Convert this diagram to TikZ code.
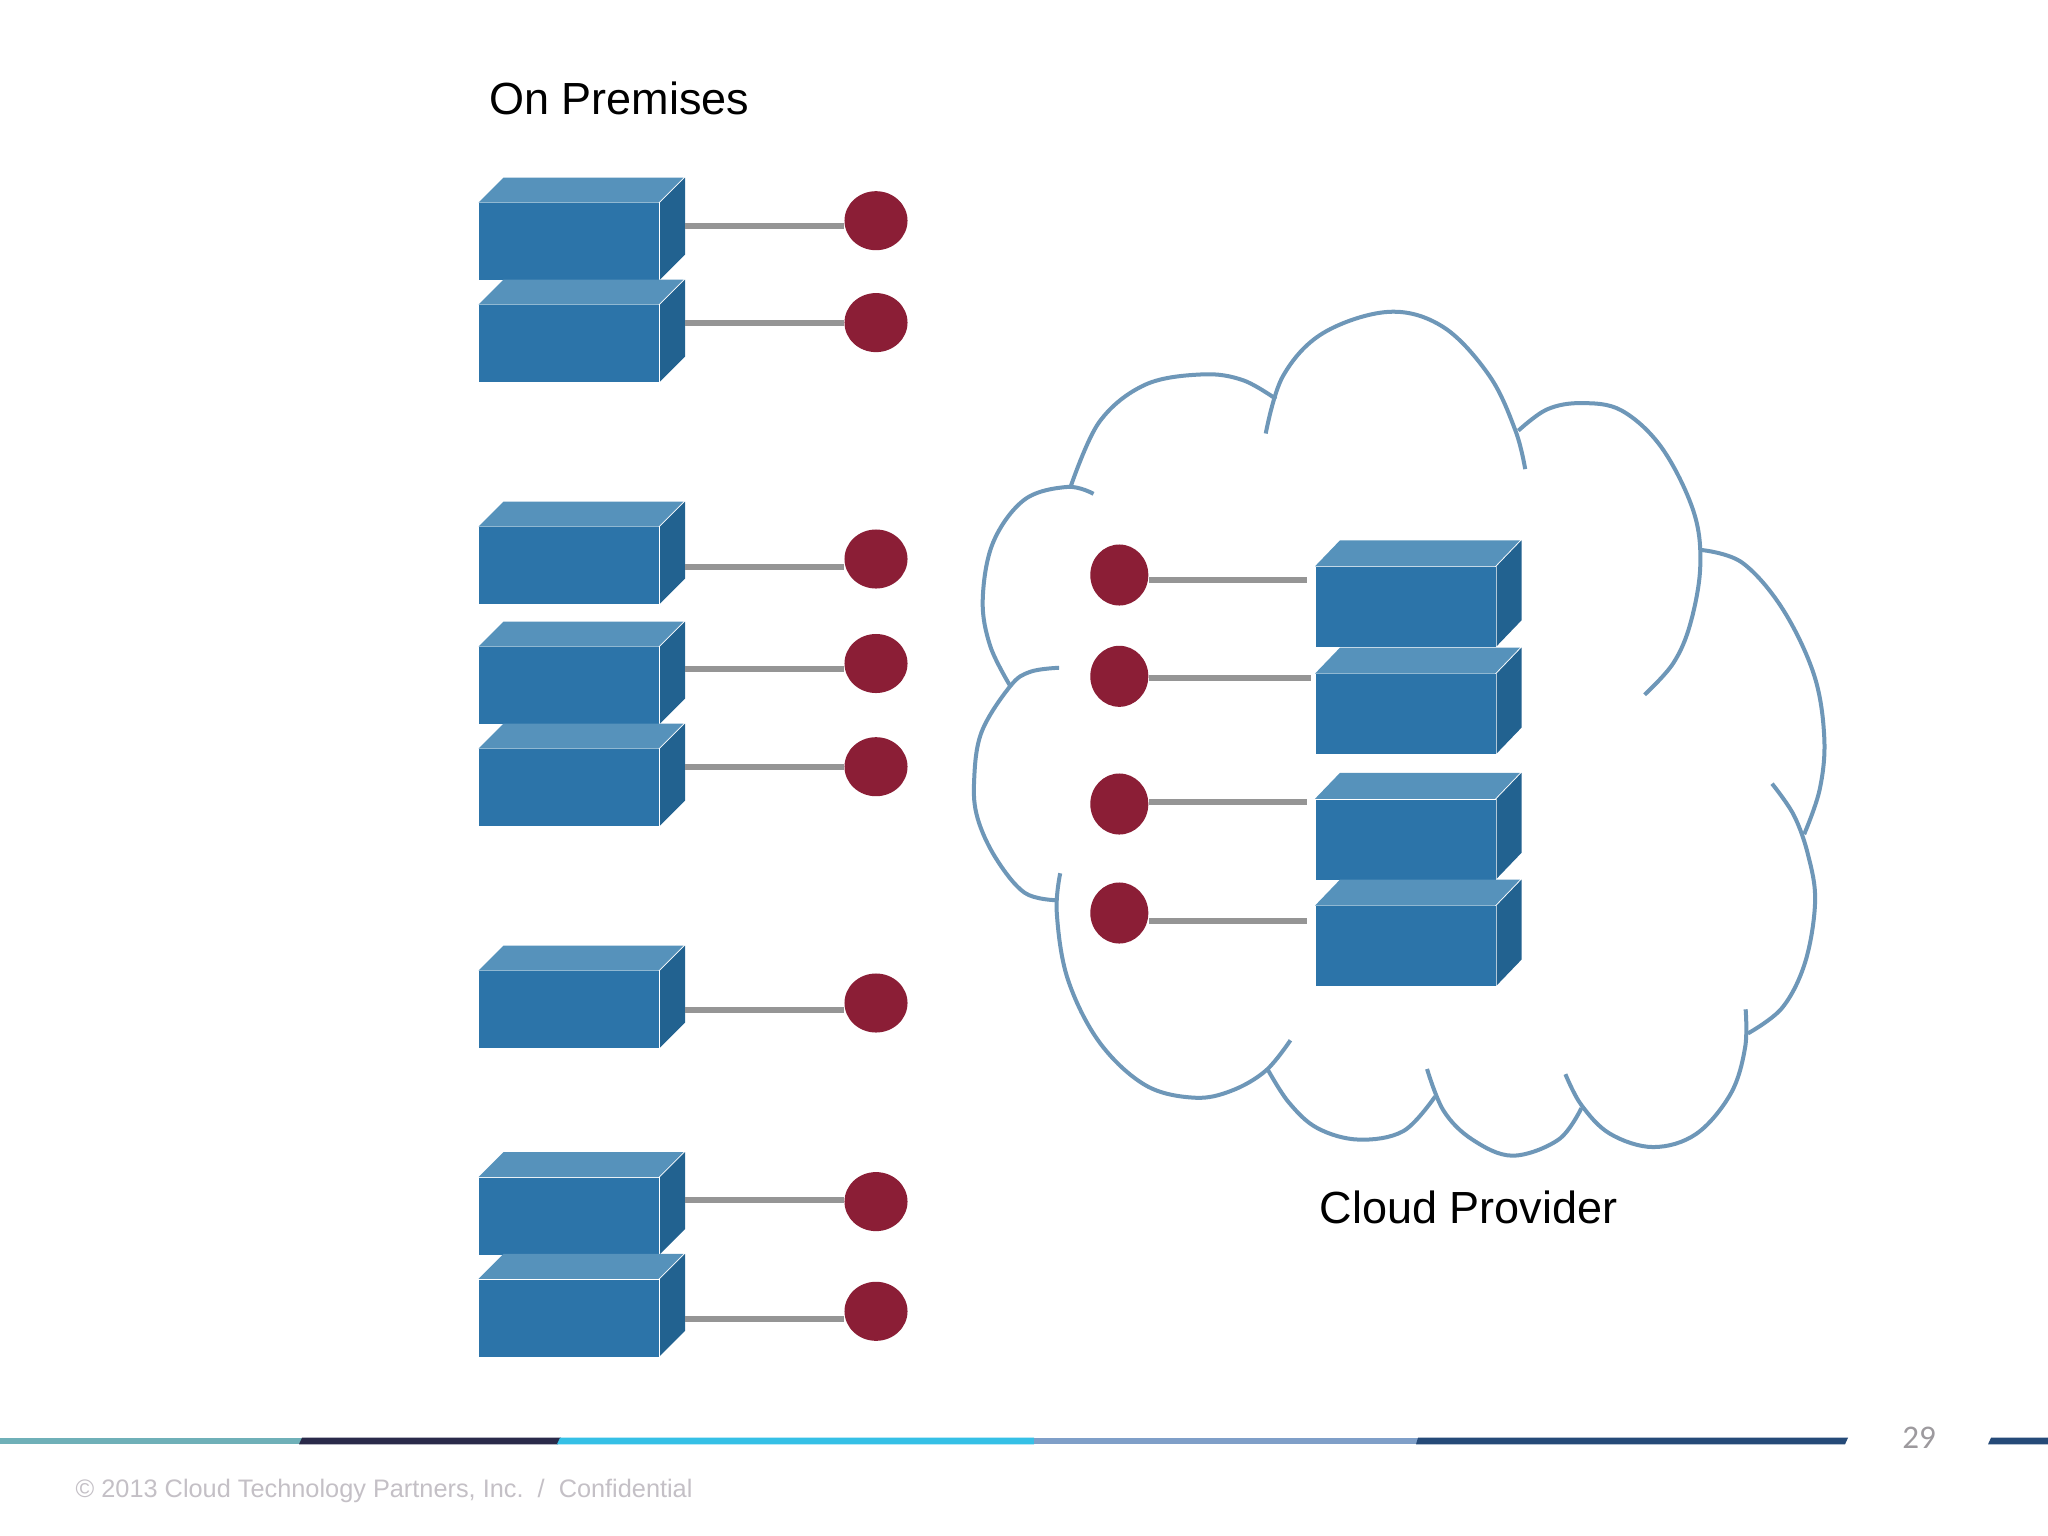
\documentclass[tikz,border=0pt]{standalone}
\usepackage{fontspec}
\setmainfont{Liberation Sans}
\newfontfamily\numfont{Carlito}
\usetikzlibrary{shapes.geometric}
\definecolor{boxfront}{HTML}{2C74A9}
\definecolor{boxtop}{HTML}{5692BB}
\definecolor{boxside}{HTML}{226290}
\definecolor{wirecol}{HTML}{959595}
\definecolor{dotcol}{HTML}{8B1E36}
\definecolor{cloudcol}{HTML}{6E97B8}
\definecolor{foot}{HTML}{C4C0C6}
\tikzset{
  frontface/.style={rectangle,fill=boxfront,draw=none,inner sep=0pt,anchor=north west},
  topface/.style={fill=boxtop},
  sideface/.style={fill=boxside},
  wire/.style={draw=wirecol,line width=0.06cm},
  dotnode/.style={ellipse,fill=dotcol,draw=none,inner sep=0pt,minimum width=0.63cm,minimum height=0.59cm},
  clouddot/.style={ellipse,fill=dotcol,draw=none,inner sep=0pt,minimum width=0.58cm,minimum height=0.61cm},
  cloudarc/.style={draw=cloudcol,line width=0.04cm,smooth,tension=0.6},
  title/.style={font=\fontsize{12.8pt}{15pt}\selectfont,text=black,inner sep=0pt,anchor=west},
}
% name, x of front, y of back top, offset dy, front height
\newcommand{\srvbox}[5]{%
  \node[frontface,minimum width=1.8cm,minimum height=#5*0.01cm] (#1) at (#2,#3+#4) {};
  \fill[topface] (#1.north west) -- ++(25,-#4) -- ++(180,0) -- ++(-25,#4) -- cycle;
  \fill[sideface] (#1.north east) -- ++(25,-#4) -- ++(0,#5) -- ++(-25,#4) -- cycle;
  \coordinate (#1-r) at ([xshift=0.25cm]#1.east);
}
\begin{document}
\begin{tikzpicture}[x=0.01cm,y=-0.01cm]
\useasboundingbox[fill=white] (0,0) rectangle (2048,1536);

\node[title] (onprem) at (488.5,98) {On Premises};
\node[title] (cloudprov) at (1319,1207) {Cloud Provider};

% on-premises boxes
\srvbox{a}{478.5}{177.6}{25}{77}
\srvbox{b}{478.5}{279.5}{25}{77}
\srvbox{c}{478.5}{501.6}{25}{77}
\srvbox{d}{478.5}{621.7}{25}{77}
\srvbox{e}{478.5}{723.6}{25}{77}
\srvbox{f}{478.5}{945.6}{25}{77}
\srvbox{g}{478.5}{1152}{25}{77}
\srvbox{h}{478.5}{1253.9}{25}{77}

\node[dotnode] (da) at (876,220.7) {};
\node[dotnode] (db) at (876,322.6) {};
\node[dotnode] (dc) at (876,559) {};
\node[dotnode] (dd) at (876,663.5) {};
\node[dotnode] (de) at (876,766.7) {};
\node[dotnode] (df) at (876,1003) {};
\node[dotnode] (dg) at (876,1201.6) {};
\node[dotnode] (dh) at (876,1311.3) {};

\draw[wire] (a-r |- 0,226) -- (da.west |- 0,226);
\draw[wire] (b-r |- 0,323) -- (db.west |- 0,323);
\draw[wire] (c-r |- 0,566.8) -- (dc.west |- 0,566.8);
\draw[wire] (d-r |- 0,669.4) -- (dd.west |- 0,669.4);
\draw[wire] (e-r |- 0,766.7) -- (de.west |- 0,766.7);
\draw[wire] (f-r |- 0,1009.6) -- (df.west |- 0,1009.6);
\draw[wire] (g-r |- 0,1199.6) -- (dg.west |- 0,1199.6);
\draw[wire] (h-r |- 0,1319) -- (dh.west |- 0,1319);

% cloud boxes
\srvbox{p}{1315}{540.3}{26}{80}
\srvbox{q}{1315}{647.6}{26}{80}
\srvbox{r}{1315}{772.8}{26}{80}
\srvbox{s}{1315}{879.6}{26}{80}

\node[clouddot] (dp) at (1119.3,575) {};
\node[clouddot] (dq) at (1119.3,676.3) {};
\node[clouddot] (dr) at (1119.3,804) {};
\node[clouddot] (ds) at (1119.3,913) {};

\coordinate (pend) at (1307,580);
\coordinate (qend) at (1311,678);
\coordinate (rend) at (1307,802);
\coordinate (send) at (1307,921);
\draw[wire] (dp.east |- pend) -- (pend);
\draw[wire] (dq.east |- qend) -- (qend);
\draw[wire] (dr.east |- rend) -- (rend);
\draw[wire] (ds.east |- send) -- (send);

% cloud outline
\begin{scope}[shift={(950,290)},x=0.00574cm,y=-0.00574cm]
\draw[cloudarc] plot coordinates {(250,355) (205,343) (130,365) (75,440) (57,540) (70,620) (105,690)};
\draw[cloudarc] plot coordinates {(210,343) (260,230) (340,165) (440,147) (510,157) (568,190)};
\draw[cloudarc] plot coordinates {(550,250) (580,150) (650,75) (765,38) (860,65) (940,150) (985,245) (1002,312)};
\draw[cloudarc] plot coordinates {(990,245) (1040,208) (1100,197) (1170,210) (1240,275) (1295,385) (1307,480) (1290,580) (1260,650) (1210,705)};
\draw[cloudarc] plot coordinates {(1310,453) (1380,475) (1450,555) (1505,670) (1523,780) (1515,870) (1488,948)};
\draw[cloudarc] plot coordinates {(1432,860) (1470,915) (1495,985) (1507,1065) (1490,1170) (1450,1250) (1390,1295)};
\draw[cloudarc] plot coordinates {(1386,1253) (1385,1320) (1360,1400) (1300,1470) (1225,1493) (1150,1470) (1100,1420) (1072,1366)};
\draw[cloudarc] plot coordinates {(1100,1425) (1060,1480) (980,1508) (910,1480) (860,1430) (831,1357)};
\draw[cloudarc] plot coordinates {(845,1405) (790,1465) (712,1480) (640,1460) (590,1415) (553,1357)};
\draw[cloudarc] plot coordinates {(593,1307) (550,1360) (490,1395) (425,1407) (340,1385) (260,1310) (205,1200) (186,1085) (192,1016)};
\draw[cloudarc] plot coordinates {(185,1063) (130,1050) (80,990) (48,920) (42,855) (55,770) (105,690) (140,665) (190,658)};
\end{scope}

% footer bar
\fill[color={rgb,255:red,111;green,176;blue,184}] (0,1437.7) rectangle (303,1444.3);
\fill[color={rgb,255:red,42;green,42;blue,74}] (302,1437.7) -- (561,1437.7) -- (558,1444.3) -- (299,1444.3) -- cycle;
\fill[color={rgb,255:red,53;green,192;blue,230}] (560,1437.7) -- (1034,1437.7) -- (1034,1444.3) -- (557,1444.3) -- cycle;
\fill[color={rgb,255:red,127;green,159;blue,200}] (1034,1437.7) rectangle (1419,1444.3);
\fill[color={rgb,255:red,37;green,74;blue,120}] (1418,1437.7) -- (1848,1437.7) -- (1845,1444.3) -- (1416,1444.3) -- cycle;
\fill[color={rgb,255:red,37;green,74;blue,120}] (1991,1437.7) -- (2048,1437.7) -- (2048,1444.3) -- (1988,1444.3) -- cycle;

\node[font=\numfont\fontsize{9.4pt}{11pt}\selectfont,text=foot!80!black,inner sep=0pt] (pagenum) at (1919,1438) {29};
\node[font=\fontsize{7.2pt}{9pt}\selectfont,text=foot,inner sep=0pt,anchor=west] (copyright) at (75,1491) {© 2013 Cloud Technology Partners, Inc.~~/~~Confidential};
\end{tikzpicture}
\end{document}
